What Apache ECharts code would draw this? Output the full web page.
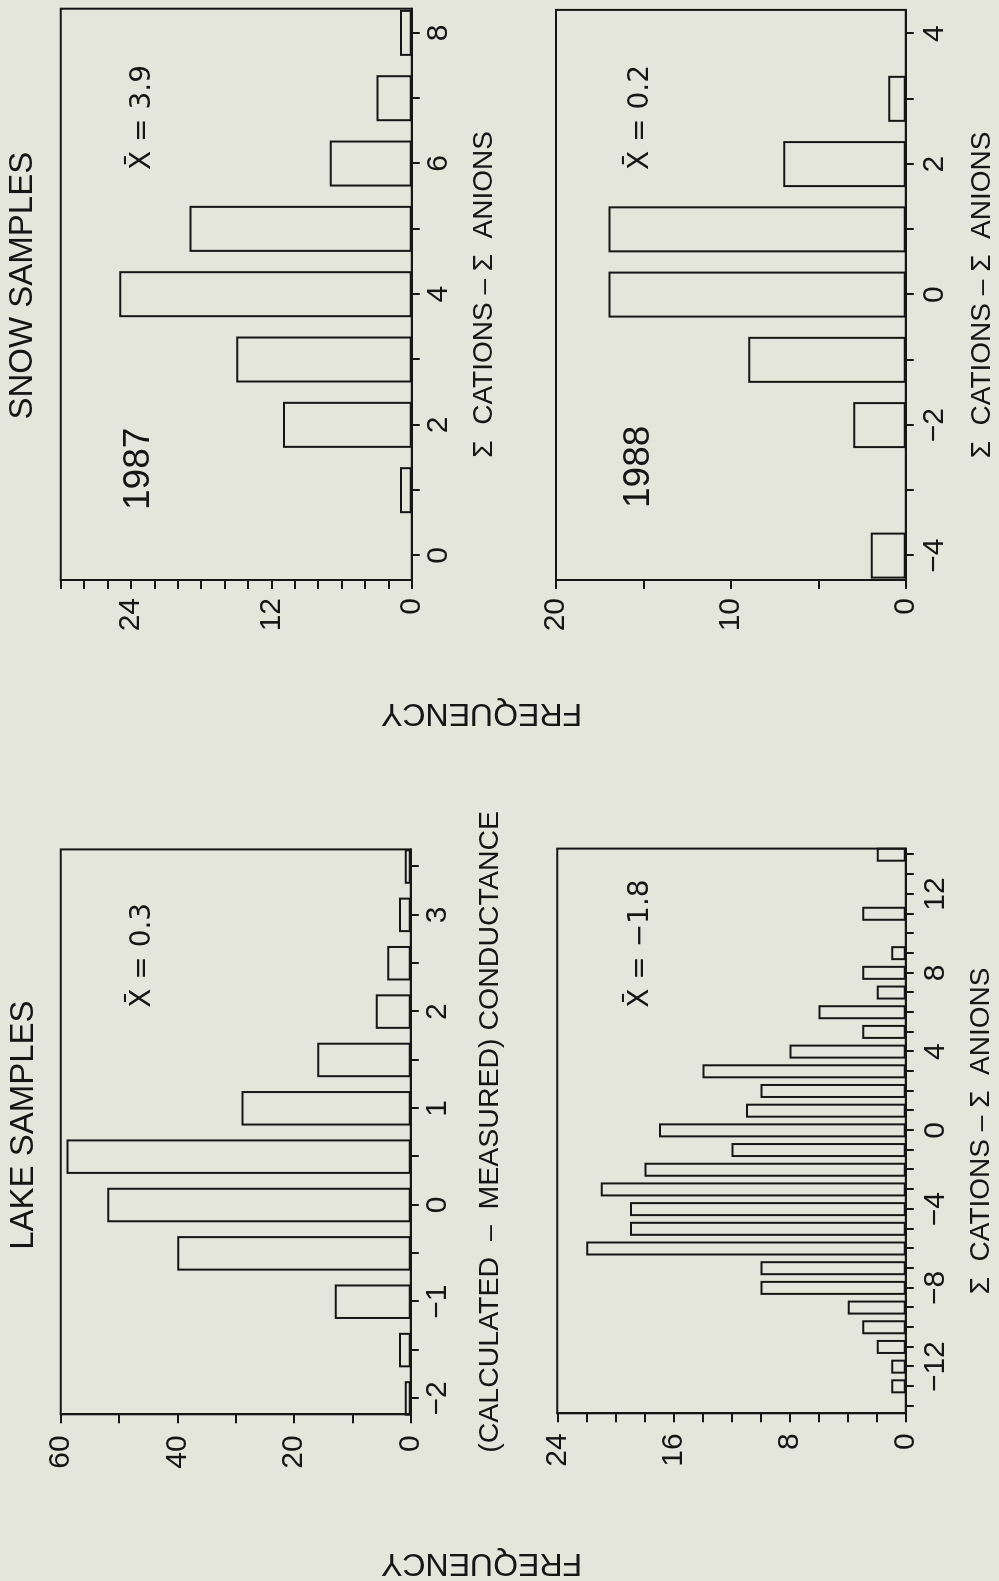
<!DOCTYPE html>
<html>
<head>
<meta charset="utf-8">
<script src="https://cdn.jsdelivr.net/npm/echarts@6/dist/echarts.min.js"></script>
<style>
html, body { margin:0; padding:0; width:999px; height:1581px; overflow:hidden; background:#e4e6db; }
#chart { position:absolute; left:0; top:0; width:1581px; height:999px;
  transform-origin:0 0; transform:translate(0px,1581px) rotate(-90deg); }
</style>
</head>
<body>
<div id="chart"></div>
<script>
// ---------------- data ----------------
const lakeCondBins = [-2, -1.5, -1, -0.5, 0, 0.5, 1, 1.5, 2, 2.5, 3, 3.5];
const lakeCondFreq = [1, 2, 13, 40, 52, 59, 29, 16, 6, 4, 2, 1];

const lakeIonBins = [-13, -12, -11, -10, -9, -8, -7, -6, -5, -4, -3, -2, -1, 0, 1, 2, 3, 4, 5, 6, 7, 8, 9, 10, 11, 12, 13, 14];
const lakeIonFreq = [1, 1, 2, 3, 4, 10, 10, 22, 19, 19, 21, 18, 12, 17, 11, 10, 14, 8, 3, 6, 2, 3, 1, 0, 3, 0, 0, 2];

const snow87Bins = [0, 1, 2, 3, 4, 5, 6, 7, 8];
const snow87Freq = [0, 1, 11, 15, 25, 19, 7, 3, 1];

const snow88Bins = [-4, -3, -2, -1, 0, 1, 2, 3];
const snow88Freq = [2, 0, 3, 9, 17, 17, 7, 1];

// tick and label values
const condTicks   = [-2, -1.5, -1, -0.5, 0, 0.5, 1, 1.5, 2, 2.5, 3, 3.5];
const condLabels  = [-2, -1, 0, 1, 2, 3];
const ionTicks    = [-14,-13,-12,-11,-10,-9,-8,-7,-6,-5,-4,-3,-2,-1,0,1,2,3,4,5,6,7,8,9,10,11,12,13,14];
const ionLabels   = [-12, -8, -4, 0, 4, 8, 12];
const s87Ticks    = [0, 1, 2, 3, 4, 5, 6, 7, 8];
const s87Labels   = [0, 2, 4, 6, 8];
const s88Ticks    = [-4, -3, -2, -1, 0, 1, 2, 3, 4];
const s88Labels   = [-4, -2, 0, 2, 4];

const condFreqTicks  = [0, 10, 20, 30, 40, 50, 60];
const condFreqLabels = [0, 20, 40, 60];
const ionFreqTicks   = [0, 2, 4, 6, 8, 10, 12, 14, 16, 18, 20, 22, 24];
const ionFreqLabels  = [0, 8, 16, 24];
const s87FreqTicks   = [0, 2, 4, 6, 8, 10, 12, 14, 16, 18, 20, 22, 24, 26, 28, 30];
const s87FreqLabels  = [0, 12, 24];
const s88FreqTicks   = [0, 5, 10, 15, 20];
const s88FreqLabels  = [0, 10, 20];

// texts
const titleLake = 'LAKE SAMPLES';
const titleSnow = 'SNOW SAMPLES';
const nameCond  = '(CALCULATED  \u2013  MEASURED) CONDUCTANCE';
const nameIon   = '\u03A3  CATIONS \u2013 \u03A3  ANIONS';
const yName     = 'FREQUENCY';
const meanCond  = 'X\u0304 = 0.3';
const meanIon   = 'X\u0304 = \u22121.8';
const mean87    = 'X\u0304 = 3.9';
const mean88    = 'X\u0304 = 0.2';
const year87    = '1987';
const year88    = '1988';

// ---------------- styling ----------------
const INK = '#161616';
const BG  = '#e4e6db';
const FONT = '"Liberation Sans", Arial, sans-serif';

function fmt(v) { return (v < 0 ? '\u2212' : '') + Math.abs(v); }

function pairs(bins, freq) {
  const out = [];
  bins.forEach((b, i) => { if (freq[i] > 0) out.push([b, freq[i]]); });
  return out;
}

function xAxisDef(gi, min, max, ticks, labels, name, nameGap, labelMargin, nameSize) {
  return {
    gridIndex: gi, type: 'value', min: min, max: max,
    splitLine: { show: false },
    axisLine: { show: true, onZero: false, lineStyle: { color: INK, width: 2 } },
    axisTick: { show: true, length: 8, inside: false, customValues: ticks, lineStyle: { color: INK, width: 2 } },
    axisLabel: { customValues: labels, formatter: fmt, color: INK, fontSize: 30, fontFamily: FONT, margin: labelMargin },
    name: name, nameLocation: 'middle', nameGap: nameGap,
    nameTextStyle: { color: INK, fontSize: nameSize, fontFamily: FONT }
  };
}
function yAxisDef(gi, max, ticks, labels, margin) {
  return {
    gridIndex: gi, type: 'value', min: 0, max: max,
    splitLine: { show: false },
    axisLine: { show: true, onZero: false, lineStyle: { color: INK, width: 2 } },
    axisTick: { show: true, length: 9, inside: false, customValues: ticks, lineStyle: { color: INK, width: 2 } },
    axisLabel: { customValues: labels, formatter: fmt, color: INK, fontSize: 30, fontFamily: FONT, margin: margin }
  };
}
function barSeries(idx, bins, freq, width) {
  return {
    type: 'bar', xAxisIndex: idx, yAxisIndex: idx,
    data: pairs(bins, freq), barWidth: width, clip: true,
    itemStyle: { color: 'rgba(0,0,0,0)', borderColor: INK, borderWidth: 2 },
    emphasis: { disabled: true }, silent: true
  };
}
function txt(x, y, text, size, align, rot, family) {
  return {
    type: 'text', x: x, y: y, rotation: rot || 0, silent: true,
    style: { text: text, fill: INK, fontSize: size, fontFamily: family || FONT,
             align: align || 'center', verticalAlign: 'middle',
             textAlign: align || 'center', textVerticalAlign: 'middle' }
  };
}

const gridBase = { show: true, borderColor: INK, borderWidth: 2, backgroundColor: 'rgba(0,0,0,0)', containLabel: false, outerBoundsMode: 'none' };

const option = {
  animation: false,
  backgroundColor: BG,
  textStyle: { fontFamily: FONT },
  grid: [
    Object.assign({ left: 166.7, top: 60.7, width: 564.9, height: 350.0 }, gridBase),
    Object.assign({ left: 167.7, top: 557.3, width: 564.7, height: 348.4 }, gridBase),
    Object.assign({ left: 1001, top: 60.7, width: 571.3, height: 351.0 }, gridBase),
    Object.assign({ left: 1001, top: 556.0, width: 570.1, height: 349.7 }, gridBase)
  ],
  xAxis: [
    xAxisDef(0, -2.164, 3.677, condTicks, condLabels, nameCond, 65, 12, 28.5),
    xAxisDef(1, -14.37, 14.31, ionTicks, ionLabels, nameIon, 62, 15, 28),
    xAxisDef(2, -0.375, 8.37, s87Ticks, s87Labels, nameIon, 59, 12.5, 28),
    xAxisDef(3, -4.374, 4.363, s88Ticks, s88Labels, nameIon, 63, 14, 28)
  ],
  yAxis: [
    yAxisDef(0, 60, condFreqTicks, condFreqLabels, 21),
    yAxisDef(1, 24, ionFreqTicks, ionFreqLabels, 20),
    yAxisDef(2, 30, s87FreqTicks, s87FreqLabels, 18),
    yAxisDef(3, 20, s88FreqTicks, s88FreqLabels, 18)
  ],
  series: [
    barSeries(0, lakeCondBins, lakeCondFreq, 34.5),
    barSeries(1, lakeIonBins, lakeIonFreq, 14),
    barSeries(2, snow87Bins, snow87Freq, 46),
    barSeries(3, snow88Bins, snow88Freq, 46)
  ],
  graphic: [
    txt(455.9, 24.2, titleLake, 33),
    txt(1295.3, 23.3, titleSnow, 33),
    txt(17.7, 481.5, yName, 32, 'center', Math.PI / 2),
    txt(868.5, 481.5, yName, 32, 'center', Math.PI / 2),
    txt(573.2, 143, meanCond, 28, 'left', 0, '"DejaVu Sans", sans-serif'),
    txt(573.2, 641, meanIon, 28, 'left', 0, '"DejaVu Sans", sans-serif'),
    txt(1411, 143, mean87, 28, 'left', 0, '"DejaVu Sans", sans-serif'),
    txt(1411, 641, mean88, 28, 'left', 0, '"DejaVu Sans", sans-serif'),
    txt(1071, 139.2, year87, 37, 'left'),
    txt(1073, 638.3, year88, 37, 'left')
  ]
};

const chart = echarts.init(document.getElementById('chart'), null, { renderer: 'canvas', width: 1581, height: 999 });
chart.setOption(option);
</script>
</body>
</html>
